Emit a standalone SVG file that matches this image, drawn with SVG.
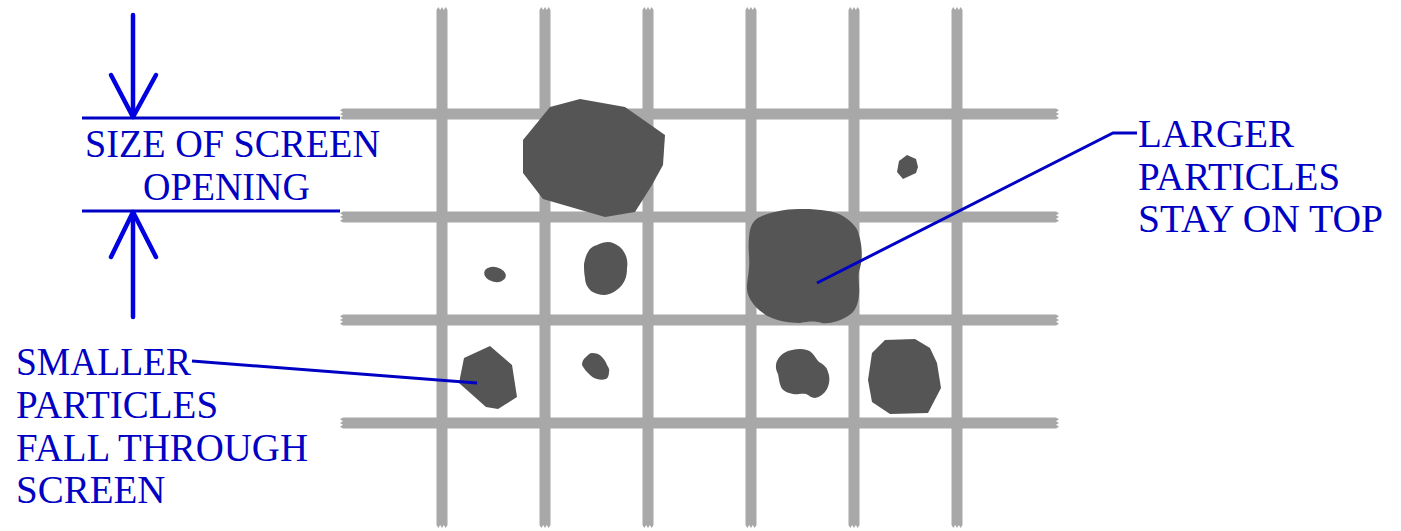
<svg xmlns="http://www.w3.org/2000/svg" xmlns:xlink="http://www.w3.org/1999/xlink" width="1401" height="531" viewBox="0 0 1401 531">
<style>
.bar{fill:#a8a8a8}
.p{fill:#555555}
.lbl{font-family:"Liberation Serif","Times New Roman",serif;font-size:39px;fill:#0000c4}
.ln{stroke:#0000c4;stroke-width:3;fill:none}
.arr{stroke:#0000e0;stroke-width:4.5;fill:none;stroke-linecap:round;stroke-linejoin:round}
</style>
<defs>
<path id="vbar" d="M-5.5,10 L-3.7,7 L-1.8,10 L0,7 L1.8,10 L3.7,7 L5.5,10 L5.5,525 L3.7,528 L1.8,525 L0,528 L-1.8,525 L-3.7,528 L-5.5,525 Z"/>
<path id="hbar" d="M343,-5.5 L340,-3.7 L343,-1.8 L340,0 L343,1.8 L340,3.7 L343,5.5 L1056,5.5 L1059,3.7 L1056,1.8 L1059,0 L1056,-1.8 L1059,-3.7 L1056,-5.5 Z"/>
</defs>
<rect width="1401" height="531" fill="#ffffff"/>
<g id="screen" class="bar">
<use xlink:href="#vbar" href="#vbar" x="442" y="0"/>
<use xlink:href="#vbar" href="#vbar" x="545" y="0"/>
<use xlink:href="#vbar" href="#vbar" x="648" y="0"/>
<use xlink:href="#vbar" href="#vbar" x="751" y="0"/>
<use xlink:href="#vbar" href="#vbar" x="854" y="0"/>
<use xlink:href="#vbar" href="#vbar" x="957" y="0"/>
<use xlink:href="#hbar" href="#hbar" x="0" y="114"/>
<use xlink:href="#hbar" href="#hbar" x="0" y="217"/>
<use xlink:href="#hbar" href="#hbar" x="0" y="320"/>
<use xlink:href="#hbar" href="#hbar" x="0" y="423"/>
</g>
<g id="particles" class="p">
<polygon id="p1" points="580,99 625,107 665,135 663,165 652,185 635,212 605,217 543,199 523,173 523,140 550,107"/>
<polygon id="p2" points="907,155 916,159 918,167 916,173 903,179 897,172 899,161"/>
<path id="p3" d="M760,217 C775,210 790,209 803,209 C820,209 835,211 843,216 C852,222 858,228 859,235 C862,245 863,258 860,268 C857,276 860,285 859,295 C858,305 855,312 848,316 C840,321 830,324 822,323 C815,321 810,321 800,323 C785,323 770,319 763,313 C752,305 746,295 747,285 C748,275 750,268 749,255 C748,245 749,235 750,230 C752,223 755,219 760,217 Z"/>
<ellipse id="p4" cx="495" cy="274.5" rx="11" ry="7.5" transform="rotate(12 495 274.5)"/>
<path id="p5" d="M597,245 C603,242 609,241 613,243 C618,245 622,248 624,252 C627,257 628,262 627,268 C627,274 626,280 622,285 C618,290 612,294 605,295 C599,295 594,293 591,291 C587,287 585,283 585,278 C584,273 584,268 584,264 C585,259 586,255 588,252 C590,248 593,246 597,245 Z"/>
<polygon id="p6" points="490,346 512,365 517,397 498,409 486,407 459,383 464,358"/>
<path id="p7" d="M592,353 C596,353 599,354 601,356 C604,359 606,362 607,365 C608,367 610,369 609,372 C609,375 608,378 606,379 C603,380 600,380 597,379 C594,378 592,377 590,375 C587,372 584,369 582,365 C582,362 583,359 586,357 C588,355 590,353 592,353 Z"/>
<path id="p8" d="M800,349 C805,349 809,350 812,353 C815,356 816,359 819,362 C823,364 827,367 828,372 C830,377 830,383 827,389 C824,394 820,397 815,398 C811,398 809,395 806,394 C801,393 797,395 793,394 C788,393 783,391 781,387 C779,383 779,378 778,374 C776,370 775,366 777,361 C779,357 781,355 784,353 C789,350 795,349 800,349 Z"/>
<polygon id="p9" points="885,340 915,339 930,348 937,363 941,388 928,413 890,414 872,402 868,380 872,353"/>
</g>
<g id="connectors">
<line class="ln" x1="82" y1="118" x2="340" y2="118"/>
<line class="ln" x1="82" y1="211" x2="340" y2="211"/>
<polyline class="arr" points="133,15 133,117"/>
<polyline class="arr" points="111,75 133,117 156,75"/>
<polyline class="arr" points="133,317 133,212"/>
<polyline class="arr" points="111,257 133,212 156,257"/>
<polyline class="ln" points="817,283 1113,133 1137,133"/>
<polyline class="ln" points="192,361 477,383"/>
</g>
<g id="label-size">
<text class="lbl" x="85" y="157" textLength="295" lengthAdjust="spacingAndGlyphs">SIZE OF SCREEN</text>
<text class="lbl" x="143" y="200" textLength="167" lengthAdjust="spacingAndGlyphs">OPENING</text>
</g>
<g id="label-larger">
<text class="lbl" x="1138" y="147">LARGER</text>
<text class="lbl" x="1138" y="190">PARTICLES</text>
<text class="lbl" x="1138" y="232" textLength="245" lengthAdjust="spacingAndGlyphs">STAY ON TOP</text>
</g>
<g id="label-smaller">
<text class="lbl" x="16" y="375" textLength="175" lengthAdjust="spacingAndGlyphs">SMALLER</text>
<text class="lbl" x="16" y="418">PARTICLES</text>
<text class="lbl" x="16" y="461" textLength="292" lengthAdjust="spacingAndGlyphs">FALL THROUGH</text>
<text class="lbl" x="16" y="503">SCREEN</text>
</g>
</svg>
